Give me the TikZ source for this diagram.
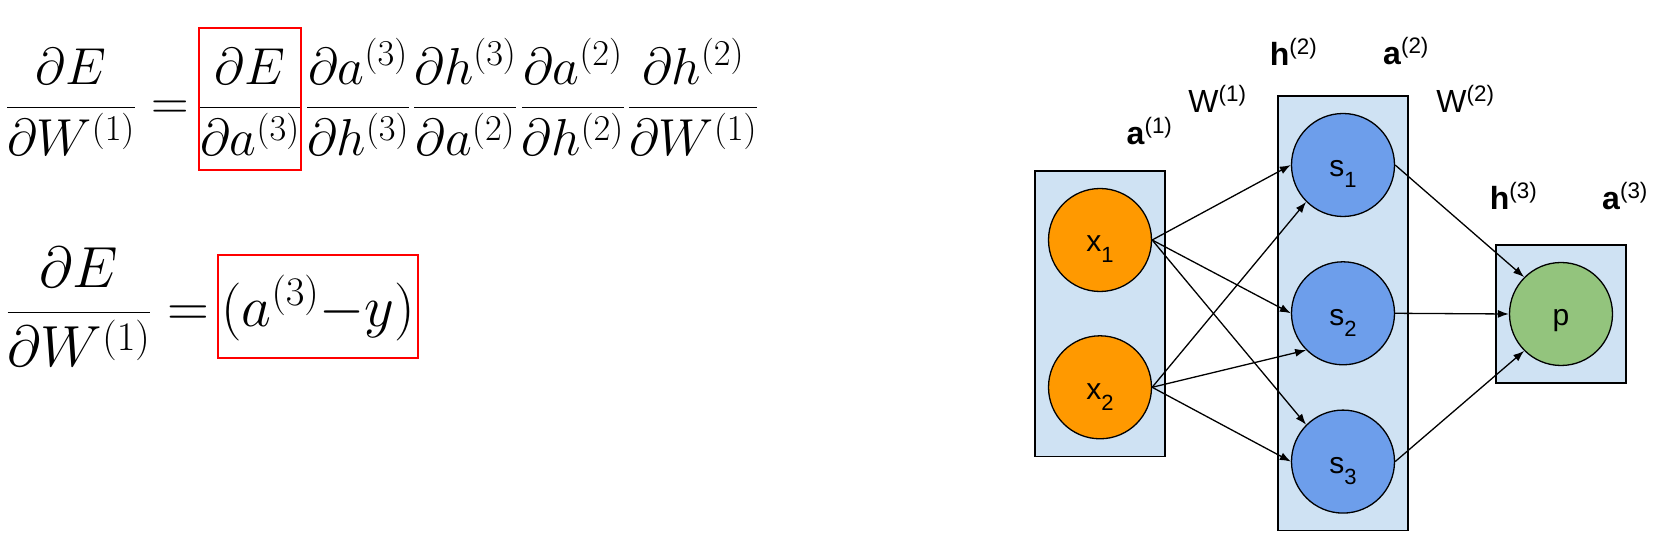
\RequirePackage{fix-cm}
\documentclass[tikz,border=0pt]{standalone}
\usepackage{fontspec}
\newfontfamily\arialfont{Liberation Sans}
\usetikzlibrary{positioning, arrows.meta, fit, backgrounds}
\definecolor{layerfill}{HTML}{CFE2F3}
\definecolor{inputfill}{HTML}{FF9900}
\definecolor{hiddenfill}{HTML}{6D9EEB}
\definecolor{outfill}{HTML}{93C47D}
\definecolor{boxred}{HTML}{FF0000}
\newcommand{\unitsub}[1]{\raisebox{-11pt}{\fontsize{22}{26}\selectfont #1}}

\begin{document}
\begin{tikzpicture}[
    x=1pt, y=1pt,
    >={Latex[length=11pt, width=8pt]},
    unit/.style={circle, draw, line width=1.3pt, minimum size=103pt, inner sep=0pt,
                 font=\arialfont\fontsize{30}{36}\selectfont, text height=30pt, text depth=6pt},
    layer/.style={draw, fill=layerfill, line width=1.4pt, inner xsep=13pt, inner ysep=17pt},
    tag/.style={font=\arialfont\fontsize{32}{38}\selectfont, inner sep=0pt, anchor=base},
    conn/.style={->, line width=1.3pt},
    eqbig/.style={font=\fontsize{52}{62}\selectfont, inner sep=0pt, anchor=base},
    eqhuge/.style={font=\fontsize{58}{70}\selectfont, inner sep=0pt, anchor=base},
    errbox/.style={draw=boxred, line width=2pt, inner xsep=0pt, inner ysep=0pt},
]
\useasboundingbox (0,0) rectangle (1660,540);

% Chain rule, full form
\node[eqbig] (lhsA) at (71,420) {$\displaystyle\frac{\partial E}{\partial W^{(1)}}$};
\node[eqbig] (eqA) at (170,420) {$=$};
\node[eqbig, errbox, text height=92pt, text depth=50pt] (errA) at (250,420)
  {$\displaystyle\frac{\partial E}{\partial a^{(3)}}$};
\node[eqbig] (chainA) at (532,420) {$\displaystyle
  {\frac{\partial a^{(3)}}{\partial h^{(3)}}}\kern3pt
  {\frac{\partial h^{(3)}}{\partial a^{(2)}}}\kern3pt
  {\frac{\partial a^{(2)}}{\partial h^{(2)}}}\kern3pt
  {\frac{\partial h^{(2)}}{\partial W^{(1)}}}$};

% Output error term
\node[eqhuge] (lhsB) at (79,213) {$\displaystyle\frac{\partial E}{\partial W^{(1)}}$};
\node[eqhuge] (eqB) at (188.5,213) {$=$};
\node[eqhuge, errbox, inner xsep=3pt, text height=72pt, text depth=31pt] (errB) at (318,213)
  {$(a^{(3)}{-}y)$};

% Units
\node[unit, fill=inputfill] (x1) at (1100,300) {x\unitsub{1}};
\node[unit, fill=inputfill, below=43pt of x1] (x2) {x\unitsub{2}};
\node[unit, fill=hiddenfill] (s1) at (1343,375) {s\unitsub{1}};
\node[unit, fill=hiddenfill, below=44pt of s1] (s2) {s\unitsub{2}};
\node[unit, fill=hiddenfill, below=44pt of s2] (s3) {s\unitsub{3}};
\node[unit, fill=outfill] (p) at (1561,226) {p};

% Layer boxes
\begin{scope}[on background layer]
  \node[layer, fit=(x1)(x2)] (inputs) {};
  \node[layer, fit=(s1)(s3)] (hidden) {};
  \node[layer, fit=(p)] (output) {};
\end{scope}

% Layer labels
\node[tag] (a1) at (1149.5,395) {\textbf{a}\textsuperscript{(1)}};
\node[tag] (w1) at (1217.5,427) {W\textsuperscript{(1)}};
\node[tag] (h2) at (1293.5,474) {\textbf{h}\textsuperscript{(2)}};
\node[tag] (a2) at (1406,475) {\textbf{a}\textsuperscript{(2)}};
\node[tag] (w2) at (1465.5,427) {W\textsuperscript{(2)}};
\node[tag] (h3) at (1513.5,330) {\textbf{h}\textsuperscript{(3)}};
\node[tag] (a3) at (1625,330) {\textbf{a}\textsuperscript{(3)}};

% Weights
\draw[conn] (x1.east) -- (s1.west);
\draw[conn] (x1.east) -- (s2.west);
\draw[conn] (x1.east) -- (s3.north west);
\draw[conn] (x2.east) -- (s1.south west);
\draw[conn] (x2.east) -- (s2.south west);
\draw[conn] (x2.east) -- (s3.west);
\draw[conn] (s1.east) -- (p.north west);
\draw[conn] (s2.east) -- (p.west);
\draw[conn] (s3.east) -- (p.south west);

\end{tikzpicture}
\end{document}
